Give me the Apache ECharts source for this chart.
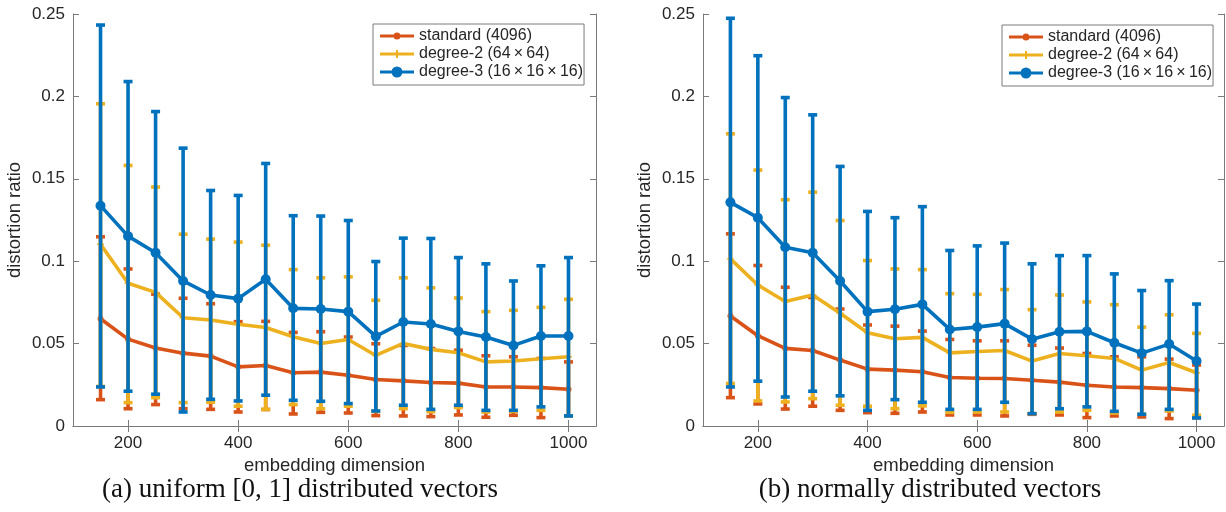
<!DOCTYPE html>
<html>
<head>
<meta charset="utf-8">
<script src="https://cdn.jsdelivr.net/npm/echarts@6/dist/echarts.min.js"></script>
<style>
html,body{margin:0;padding:0;background:#fff;}
#chart{width:1226px;height:512px;}
</style>
</head>
<body>
<div id="chart"></div>
<script>
// ---- data ----
const dims = [150,200,250,300,350,400,450,500,550,600,650,700,750,800,850,900,950,1000];
const xTicks = [200,400,600,800,1000];
const seriesNames = ['standard (4096)', 'degree-2 (64\u2009\u00d7\u200964)', 'degree-3 (16\u2009\u00d7\u200916\u2009\u00d7\u200916)'];
const captions = ['(a) uniform [0, 1] distributed vectors', '(b) normally distributed vectors'];

// panel (a): uniform
const stdA    = [0.0651,0.0527,0.0473,0.0442,0.0424,0.0359,0.0367,0.0323,0.0327,0.0308,0.0282,0.0274,0.0264,0.0260,0.0237,0.0237,0.0233,0.0223];
const stdAHi  = [0.1148,0.0953,0.0800,0.0775,0.0742,0.0633,0.0635,0.0568,0.0572,0.0540,0.0499,0.0489,0.0470,0.0460,0.0426,0.0420,0.0410,0.0389];
const stdALo  = [0.0160,0.0105,0.0130,0.0105,0.0101,0.0085,0.0100,0.0073,0.0083,0.0079,0.0063,0.0061,0.0057,0.0067,0.0053,0.0065,0.0051,0.0061];
const deg2A   = [0.1103,0.0866,0.0811,0.0657,0.0643,0.0617,0.0598,0.0542,0.0501,0.0525,0.0428,0.0501,0.0465,0.0444,0.0389,0.0394,0.0408,0.0420];
const deg2AHi = [0.1955,0.1581,0.1450,0.1164,0.1134,0.1116,0.1097,0.0949,0.0899,0.0905,0.0763,0.0899,0.0838,0.0777,0.0694,0.0702,0.0720,0.0769];
const deg2ALo = [0.0240,0.0142,0.0172,0.0142,0.0144,0.0120,0.0101,0.0130,0.0105,0.0120,0.0089,0.0105,0.0087,0.0112,0.0085,0.0089,0.0095,0.0061];
const deg3A   = [0.1337,0.1152,0.1051,0.0880,0.0795,0.0773,0.0890,0.0714,0.0710,0.0694,0.0544,0.0631,0.0619,0.0574,0.0540,0.0489,0.0546,0.0546];
const deg3AHi = [0.2433,0.2090,0.1908,0.1686,0.1429,0.1399,0.1593,0.1276,0.1274,0.1247,0.0998,0.1140,0.1138,0.1022,0.0984,0.0880,0.0972,0.1022];
const deg3ALo = [0.0237,0.0211,0.0193,0.0085,0.0162,0.0152,0.0187,0.0156,0.0150,0.0136,0.0091,0.0126,0.0101,0.0126,0.0095,0.0095,0.0116,0.0061];

// panel (b): normal
const stdB    = [0.0667,0.0548,0.0471,0.0458,0.0400,0.0345,0.0339,0.0329,0.0294,0.0290,0.0288,0.0278,0.0266,0.0247,0.0237,0.0233,0.0227,0.0217];
const stdBHi  = [0.1166,0.0974,0.0842,0.0780,0.0710,0.0613,0.0606,0.0576,0.0525,0.0517,0.0517,0.0490,0.0473,0.0440,0.0420,0.0420,0.0406,0.0370];
const stdBLo  = [0.0172,0.0134,0.0103,0.0120,0.0095,0.0081,0.0077,0.0085,0.0067,0.0067,0.0061,0.0071,0.0067,0.0051,0.0061,0.0055,0.0045,0.0050];
const deg2B   = [0.1014,0.0856,0.0755,0.0795,0.0684,0.0566,0.0529,0.0538,0.0444,0.0452,0.0458,0.0394,0.0440,0.0426,0.0410,0.0339,0.0385,0.0323];
const deg2BHi = [0.1773,0.1553,0.1373,0.1419,0.1247,0.1004,0.0953,0.0949,0.0803,0.0799,0.0828,0.0706,0.0795,0.0753,0.0736,0.0600,0.0675,0.0562];
const deg2BLo = [0.0258,0.0152,0.0146,0.0166,0.0126,0.0120,0.0105,0.0122,0.0083,0.0085,0.0085,0.0075,0.0085,0.0095,0.0079,0.0071,0.0091,0.0065];
const deg3B   = [0.1357,0.1264,0.1085,0.1051,0.0880,0.0694,0.0708,0.0738,0.0586,0.0600,0.0621,0.0527,0.0572,0.0574,0.0505,0.0442,0.0497,0.0394];
const deg3BHi = [0.2474,0.2247,0.1993,0.1888,0.1575,0.1302,0.1264,0.1331,0.1065,0.1093,0.1110,0.0984,0.1034,0.1034,0.0923,0.0822,0.0882,0.0740];
const deg3BLo = [0.0237,0.0272,0.0176,0.0211,0.0183,0.0095,0.0160,0.0144,0.0101,0.0101,0.0144,0.0075,0.0105,0.0116,0.0089,0.0071,0.0101,0.0049];

// ---- styling ----
const COLORS = ['#D95319', '#EDB120', '#0072BD'];
const FONT = "'Liberation Sans', Arial, sans-serif";
const AXIS_COLOR = '#7a7a7a';
const TEXT_COLOR = '#262626';
const plusSym = 'path://M4,0H6V4H10V6H6V10H4V6H0V4H4Z';
const SYMBOLS = ['circle', plusSym, 'circle'];
const SYMSIZES = [6, 7, 10];
// legend icons: line with marker (34 x 11 box)
const LEGEND_ICONS = [
  'path://M0,4H13.6V7H0Z M20.4,4H34V7H20.4Z M13.5,5.5A3.5,3.5 0 1,1 20.5,5.5A3.5,3.5 0 1,1 13.5,5.5Z',
  'path://M0,4H34V7H0Z M16,1.5H18V9.5H16Z',
  'path://M0,4H11.6V7H0Z M22.4,4H34V7H22.4Z M11.5,5.5A5.5,5.5 0 1,1 22.5,5.5A5.5,5.5 0 1,1 11.5,5.5Z'
];

const grids = [
  {left: 73, top: 14, width: 523, height: 412},
  {left: 703, top: 14, width: 521, height: 412}
];

function pairs(ys) { return dims.map((d, i) => [d, ys[i]]); }
function triples(lo, hi) { return dims.map((d, i) => [d, lo[i], hi[i]]); }

function errRender(color) {
  return function (params, api) {
    const x = api.value(0), lo = api.value(1), hi = api.value(2);
    const a = api.coord([x, lo]), b = api.coord([x, hi]);
    const h = 4.5;
    const st = {stroke: color, lineWidth: 3.6};
    return {type: 'group', children: [
      {type: 'line', shape: {x1: a[0], y1: a[1], x2: b[0], y2: b[1]}, style: st},
      {type: 'line', shape: {x1: a[0] - h, y1: a[1], x2: a[0] + h, y2: a[1]}, style: st},
      {type: 'line', shape: {x1: b[0] - h, y1: b[1], x2: b[0] + h, y2: b[1]}, style: st}
    ]};
  };
}

const xAxes = [], yAxes = [], series = [];
const panels = [
  {vals: [stdA, deg2A, deg3A], lo: [stdALo, deg2ALo, deg3ALo], hi: [stdAHi, deg2AHi, deg3AHi]},
  {vals: [stdB, deg2B, deg3B], lo: [stdBLo, deg2BLo, deg3BLo], hi: [stdBHi, deg2BHi, deg3BHi]}
];

panels.forEach((p, g) => {
  const base = {
    gridIndex: g, type: 'value', min: 100, max: 1050,
    axisLine: {show: true, lineStyle: {color: AXIS_COLOR, width: 1}},
    axisTick: {show: true, inside: true, length: 6, customValues: xTicks, lineStyle: {color: AXIS_COLOR}},
    splitLine: {show: false}
  };
  xAxes.push(Object.assign({}, base, {
    position: 'bottom',
    axisLabel: {show: true, customValues: xTicks, margin: 9, color: TEXT_COLOR, fontSize: 17, fontFamily: FONT,
      formatter: v => String(v)},
    name: 'embedding dimension', nameLocation: 'middle', nameGap: 27,
    nameTextStyle: {color: TEXT_COLOR, fontSize: 18.5, fontFamily: FONT}
  }));
  xAxes.push(Object.assign({}, base, {position: 'top', axisLabel: {show: false}}));
  const ybase = {
    gridIndex: g, type: 'value', min: 0, max: 0.25, interval: 0.05,
    axisLine: {show: true, lineStyle: {color: AXIS_COLOR, width: 1}},
    axisTick: {show: true, inside: true, length: 6, lineStyle: {color: AXIS_COLOR}},
    splitLine: {show: false}
  };
  yAxes.push(Object.assign({}, ybase, {
    position: 'left',
    axisLabel: {show: true, margin: 8, color: TEXT_COLOR, fontSize: 17, fontFamily: FONT},
    name: 'distortion ratio', nameLocation: 'middle', nameGap: 49,
    nameTextStyle: {color: TEXT_COLOR, fontSize: 18.5, fontFamily: FONT}
  }));
  yAxes.push(Object.assign({}, ybase, {position: 'right', axisLabel: {show: false}}));

  for (let s = 0; s < 3; s++) {
    series.push({
      type: 'custom', name: seriesNames[s] + ' err', xAxisIndex: g * 2, yAxisIndex: g * 2,
      data: triples(p.lo[s], p.hi[s]), encode: {x: 0, y: [1, 2]},
      renderItem: errRender(COLORS[s]), z: 2 + s * 2, silent: true
    });
    series.push({
      type: 'line', name: seriesNames[s], xAxisIndex: g * 2, yAxisIndex: g * 2,
      data: pairs(p.vals[s]), symbol: SYMBOLS[s], symbolSize: SYMSIZES[s], showSymbol: true,
      lineStyle: {color: COLORS[s], width: 3.6}, itemStyle: {color: COLORS[s], borderWidth: 0},
      z: 3 + s * 2, silent: true
    });
  }
});

const legendBase = {
  orient: 'vertical',
  data: seriesNames.map((n, i) => ({name: n, icon: LEGEND_ICONS[i], itemStyle: {color: COLORS[i], borderWidth: 0}})),
  itemWidth: 34, itemHeight: 11, itemGap: 0,
  backgroundColor: '#fff', borderColor: AXIS_COLOR, borderWidth: 1, borderRadius: 0,
  padding: [3, 1, 4, 7], selectedMode: false,
  textStyle: {color: TEXT_COLOR, fontSize: 16, lineHeight: 18, fontFamily: FONT}
};

const CAP_FONT = "27px 'Liberation Serif', 'DejaVu Serif', serif";
const chart = echarts.init(document.getElementById('chart'));
chart.setOption({
  animation: false,
  backgroundColor: '#ffffff',
  grid: grids.map(g => Object.assign({outerBoundsMode: 'none', containLabel: false}, g)),
  xAxis: xAxes,
  yAxis: yAxes,
  legend: [
    Object.assign({}, legendBase, {left: 373, top: 24}),
    Object.assign({}, legendBase, {left: 1002, top: 25})
  ],
  series: series,
  graphic: [
    {type: 'text', x: 300, y: 490, style: {text: captions[0], fill: '#111', font: CAP_FONT, textAlign: 'center', textVerticalAlign: 'middle'}},
    {type: 'text', x: 930, y: 490, style: {text: captions[1], fill: '#111', font: CAP_FONT, textAlign: 'center', textVerticalAlign: 'middle'}}
  ]
});
</script>
</body>
</html>
